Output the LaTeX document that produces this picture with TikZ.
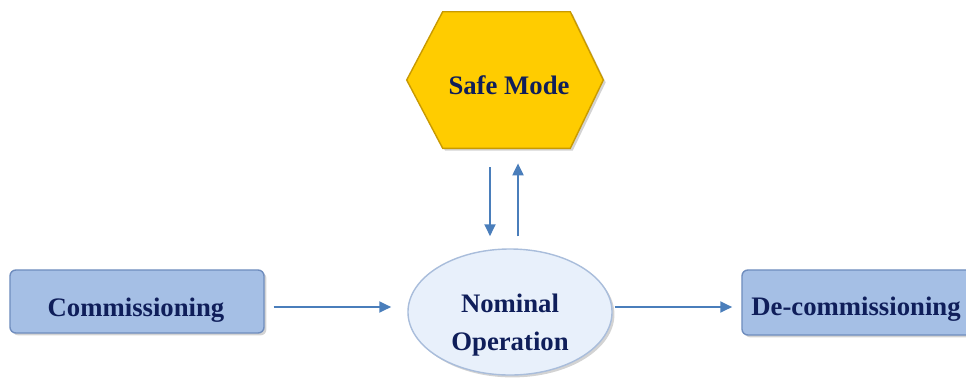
\documentclass[tikz,border=0pt]{standalone}
\usepackage{fontspec}
\setmainfont{Liberation Serif}
\usetikzlibrary{arrows.meta,shapes.geometric,shadows}
\definecolor{navy}{HTML}{0F1E5A}
\definecolor{hexfill}{HTML}{FFCC00}
\definecolor{hexline}{HTML}{C99A00}
\definecolor{boxfill}{HTML}{A5BFE5}
\definecolor{boxline}{HTML}{6F8DBE}
\definecolor{ellfill}{HTML}{E8F0FB}
\definecolor{ellline}{HTML}{A9BDDB}
\definecolor{arrowblue}{HTML}{4A7EBB}
\tikzset{
  softshadow/.style={drop shadow={opacity=0.35, shadow xshift=0.06cm, shadow yshift=-0.06cm}},
  statebox/.style={rectangle, draw=boxline, fill=boxfill, rounded corners=0.15cm,
    line width=1pt, minimum width=6.35cm, minimum height=1.575cm, softshadow},
  nomstate/.style={ellipse, draw=ellline, fill=ellfill, line width=1pt,
    minimum width=5.1cm, minimum height=3.15cm, inner sep=0pt, softshadow},
  statetext/.style={font=\bfseries\fontsize{19}{28}\selectfont, text=navy, anchor=base, inner sep=0pt},
  flow/.style={draw=arrowblue, line width=1.7pt, -{Triangle[length=0.3cm,width=0.27cm]}}
}
\begin{document}
\begin{tikzpicture}[x=0.025cm, y=-0.025cm]
    % Frame of the picture
    \clip (0,0) rectangle (966,377);
    % Safe mode hexagon
    \node[rectangle, minimum width=4.9cm, minimum height=3.4cm, inner sep=0pt] (safe) at (505,80) {};
    \draw[draw=hexline, fill=hexfill, line width=1pt, softshadow]
        (safe.west) -- ([xshift=0.9cm]safe.north west) -- ([xshift=-0.825cm]safe.north east)
        -- (safe.east) -- ([xshift=-0.825cm]safe.south east) -- ([xshift=0.9cm]safe.south west) -- cycle;
    \node[statetext] (safetext) at (509,94) {Safe Mode};
    % Phase boxes
    \node[statebox] (comm) at (137,301.5) {};
    \node[statetext] (commtext) at (136,316) {Commissioning};
    \node[nomstate] (nom) at (510,312) {};
    \node[statetext] (nomtext) at (510,312) {Nominal};
    \node[statetext] (optext) at (510,350) {Operation};
    \node[statebox, minimum width=5.75cm, minimum height=1.625cm] (decomm) at (857,302.5) {};
    \node[statetext] (decommtext) at (856,315) {De-commissioning};
    % Flow between phases
    \coordinate (flowline) at (0,307);
    \draw[flow, shorten <=0.225cm, shorten >=0.4cm] (comm.east |- flowline) -- (nom.west |- flowline);
    \draw[flow, shorten <=0.05cm, shorten >=0.225cm] (nom.east |- flowline) -- (decomm.west |- flowline);
    % To and from safe mode
    \draw[flow, shorten <=0.475cm, shorten >=0.3cm] ([xshift=-0.375cm]safe.south) -- ([xshift=-0.375cm]safe.south |- nom.north);
    \draw[flow, shorten <=0.3cm, shorten >=0.375cm] ([xshift=0.325cm]safe.south |- nom.north) -- ([xshift=0.325cm]safe.south);
\end{tikzpicture}
\end{document}
